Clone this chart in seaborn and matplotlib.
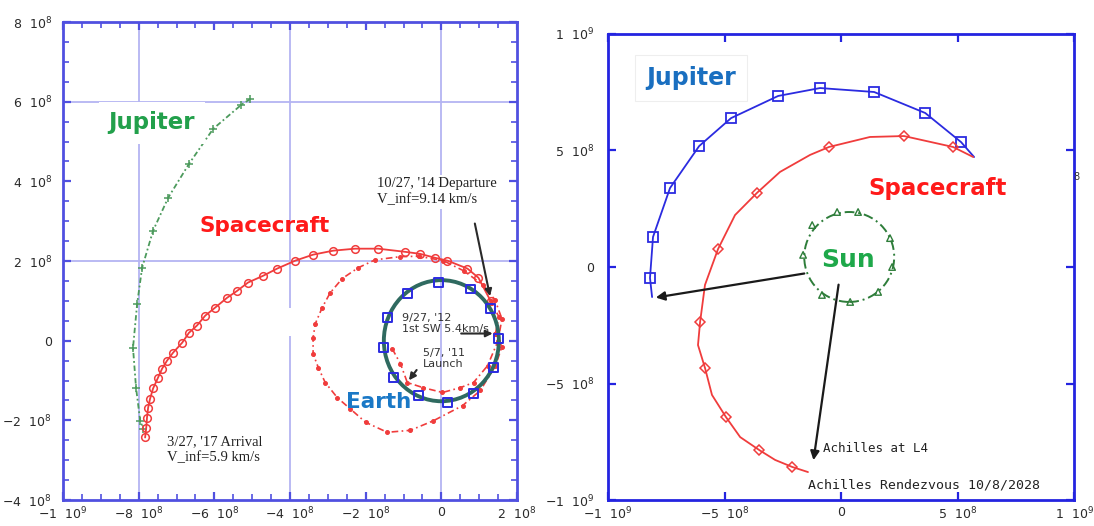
import matplotlib
matplotlib.use("Agg")
import matplotlib.pyplot as plt
from matplotlib.patches import Circle, Rectangle
from matplotlib.ticker import MultipleLocator, FuncFormatter, FixedLocator
import seaborn as sns

# All distances are in units of 1e8 km (heliocentric ecliptic plane).

# ---------------- Left panel: Earth gravity assist transfer to Jupiter ----------------
jup_left_x = [-5.05, -5.29, -6.03, -6.67, -7.22, -7.62, -7.91, -8.04, -8.15, -8.07, -7.96, -7.88]
jup_left_y = [6.07, 5.92, 5.32, 4.44, 3.59, 2.76, 1.83, 0.93, -0.18, -1.18, -2.01, -2.21]

earth_orbit_radius = 1.52
earth_mark_x = [-1.43, -1.53, -1.27, -0.61, 0.16, 0.85, 1.38, 1.51, 1.30, 0.77, -0.08, -0.90]
earth_mark_y = [0.58, -0.18, -0.93, -1.38, -1.56, -1.33, -0.68, 0.05, 0.80, 1.30, 1.46, 1.18]

# launch -> first Earth swing-by loop
loop1_x = [-1.30, -1.08, -0.90, -0.48, 0.03, 0.50, 0.85, 1.22, 1.50, 1.60, 1.42, 1.10,
           0.60, 0.05, -0.60, -1.08, -1.75, -2.20, -2.62, -2.94, -3.15, -3.33, -3.39,
           -3.39, -3.25, -3.07, -2.75, -2.41, -2.00, -1.43, -0.82, -0.21, 0.56, 1.03,
           1.43, 1.60, 1.43]
loop1_y = [-0.20, -0.58, -1.05, -1.18, -1.30, -1.18, -1.05, -0.63, 0.00, 0.55, 1.02, 1.40,
           1.75, 2.01, 2.12, 2.11, 2.03, 1.83, 1.56, 1.20, 0.83, 0.43, 0.08,
           -0.33, -0.68, -1.05, -1.43, -1.71, -2.05, -2.30, -2.25, -2.01, -1.63, -1.25,
           -0.63, -0.15, 0.18]

# swing-by -> Earth departure
loop2_x = [1.43, 1.52, 1.30]
loop2_y = [0.18, 0.60, 1.00]

# departure -> Jupiter arrival
cruise_x = [1.30, 0.98, 0.69, 0.16, -0.16, -0.56, -0.95, -1.67, -2.28, -2.86, -3.39, -3.86,
            -4.34, -4.71, -5.11, -5.40, -5.66, -5.98, -6.24, -6.46, -6.67, -6.85, -7.09,
            -7.25, -7.38, -7.49, -7.62, -7.70, -7.75, -7.78, -7.80, -7.83]
cruise_y = [1.00, 1.58, 1.81, 2.01, 2.08, 2.18, 2.23, 2.31, 2.31, 2.26, 2.16, 2.01,
            1.81, 1.63, 1.46, 1.25, 1.08, 0.83, 0.63, 0.38, 0.20, -0.05, -0.30,
            -0.50, -0.70, -0.93, -1.20, -1.46, -1.68, -1.93, -2.18, -2.43]

left_grid_x = [-8, -4, 0]
left_grid_y = [6, 2]

# ---------------- Right panel: Jupiter to Achilles (L4) ----------------
jup_right_x = [-8.11, -8.20, -8.07, -7.34, -6.09, -4.72, -2.70, -0.90, 1.42, 3.61, 5.15, 5.71]
jup_right_y = [-1.29, -0.47, 1.29, 3.39, 5.19, 6.39, 7.34, 7.68, 7.51, 6.61, 5.36, 4.72]

sc_right_x = [5.67, 4.81, 2.70, 1.24, -0.52, -1.33, -2.62, -3.61, -4.55, -5.28, -5.84, -6.05,
              -6.14, -5.84, -5.54, -4.94, -4.33, -3.52, -2.83, -2.10, -1.42]
sc_right_y = [4.72, 5.15, 5.62, 5.58, 5.15, 4.81, 4.08, 3.18, 2.23, 0.77, -0.77, -2.36,
              -3.35, -4.33, -5.49, -6.44, -7.30, -7.85, -8.28, -8.58, -8.80]
sc_right_marks = [1, 2, 4, 7, 9, 11, 13, 15, 17, 19]

sun_center = (0.35, 0.43)
sun_radius = 1.93
sun_mark_x = [-0.17, 0.73, 2.10, 2.19, 1.59, 0.39, -0.82, -1.63, -1.24]
sun_mark_y = [2.36, 2.36, 1.24, 0.00, -1.07, -1.50, -1.20, 0.52, 1.80]

# ---------------- styling ----------------
sns.set_theme(style="white")
plt.rcParams["font.family"] = ["DejaVu Sans"]
plt.rcParams["mathtext.fontset"] = "dejavusans"

RED = "#f03c3c"
BLUE = "#2b2be0"
GREEN_L = "#4c9a5c"
GREEN_R = "#2e7d3a"
EARTH = "#2f6a60"


def sci_label(v, pos):
    if abs(v) < 1e-9:
        return "0"
    exp = 9 if abs(v) >= 10 else 8
    mant = v / 10 ** (exp - 8)
    return rf"${mant:.0f}\ \ 10^{{{exp}}}$"


def style_axes(ax, spine_color, major, minor, pad_x, pad_y):
    for s in ax.spines.values():
        s.set_color(spine_color)
        s.set_linewidth(2)
    ax.xaxis.set_major_locator(MultipleLocator(major))
    ax.yaxis.set_major_locator(MultipleLocator(major))
    if minor:
        ax.xaxis.set_minor_locator(MultipleLocator(minor))
        ax.yaxis.set_minor_locator(MultipleLocator(minor))
    ax.xaxis.set_major_formatter(FuncFormatter(sci_label))
    ax.yaxis.set_major_formatter(FuncFormatter(sci_label))
    ax.tick_params(which="both", direction="in", top=True, right=True,
                   bottom=True, left=True, color=spine_color, labelcolor="#2a2a2a",
                   labelsize=9)
    ax.tick_params(which="major", length=6, width=1.6)
    ax.tick_params(which="minor", length=4, width=1.2)
    ax.tick_params(axis="x", pad=pad_x)
    ax.tick_params(axis="y", pad=pad_y)
    ax.set_xlabel("")
    ax.set_ylabel("")


fig = plt.figure(figsize=(10.94, 5.26), dpi=100)
axL = fig.add_axes([0.0576, 0.0494, 0.415, 0.9087])
axR = fig.add_axes([0.5558, 0.0494, 0.426, 0.886])

# ---------- left panel ----------
axL.set_xlim(-10, 2)
axL.set_ylim(-4, 8)
for gx in left_grid_x:
    axL.axvline(gx, color="#b4b4f2", lw=1.3, zorder=0)
for gy in left_grid_y:
    axL.axhline(gy, color="#b4b4f2", lw=1.3, zorder=0)
axL.add_patch(Rectangle((-5.58, 0.13), 2.04, 0.70, facecolor="white", edgecolor="none", zorder=0.5))

sns.lineplot(x=jup_left_x, y=jup_left_y, ax=axL, sort=False, estimator=None,
             color=GREEN_L, lw=1.3, linestyle=(0, (3, 1.5, 1, 1.5)),
             marker="+", markersize=6, markeredgecolor=GREEN_L, markeredgewidth=1.1, zorder=3)

sns.lineplot(x=loop1_x, y=loop1_y, ax=axL, sort=False, estimator=None,
             color=RED, lw=1.2, linestyle=(0, (4, 2, 1, 2)),
             marker="o", markersize=2.8, markeredgecolor=RED, markerfacecolor=RED, zorder=3)
sns.lineplot(x=loop2_x, y=loop2_y, ax=axL, sort=False, estimator=None,
             color=RED, lw=1.2, linestyle=(0, (4, 2, 1, 2)),
             marker="o", markersize=2.8, markeredgecolor=RED, markerfacecolor=RED, zorder=3)
sns.lineplot(x=cruise_x, y=cruise_y, ax=axL, sort=False, estimator=None,
             color=RED, lw=1.3, marker="o", markersize=5.5, markerfacecolor="none",
             markeredgecolor=RED, markeredgewidth=1.1, zorder=3)

axL.add_patch(Circle((0, 0), earth_orbit_radius, fill=False, edgecolor=EARTH, lw=2.8, zorder=4))
sns.scatterplot(x=earth_mark_x, y=earth_mark_y, ax=axL, marker="s", s=40,
                facecolor="none", edgecolor=BLUE, linewidth=1.4, zorder=5)

axL.text(-7.65, 5.47, "Jupiter", color="#22a04b", fontsize=16.5, fontweight="bold",
         ha="center", va="center", zorder=6,
         bbox=dict(facecolor="white", edgecolor="none", pad=7))
axL.text(-4.66, 2.89, "Spacecraft", color="#ff1a1a", fontsize=15.5, fontweight="bold",
         ha="center", va="center", zorder=6)
axL.text(-1.67, -1.53, "Earth", color="#1a78c6", fontsize=15.5, fontweight="bold",
         ha="center", va="center", zorder=6)

serif = ["Liberation Serif", "DejaVu Serif"]
axL.text(-1.69, 3.74, "10/27, '14 Departure\nV_inf=9.14 km/s", family=serif, fontsize=10.5,
         color="#222222", ha="left", va="center", linespacing=1.25, zorder=6,
         bbox=dict(facecolor="white", edgecolor="none", pad=2))
axL.text(-7.25, -2.74, "3/27, '17 Arrival\nV_inf=5.9 km/s", family=serif, fontsize=10.5,
         color="#222222", ha="left", va="center", linespacing=1.25, zorder=6,
         bbox=dict(facecolor="white", edgecolor="none", pad=2))
axL.text(-1.03, 0.43, "9/27, '12\n1st SW 5.4km/s", fontsize=8, color="#333333",
         ha="left", va="center", linespacing=1.1, zorder=6)
axL.text(-0.48, -0.45, "5/7, '11\nLaunch", fontsize=8, color="#333333",
         ha="left", va="center", linespacing=1.1, zorder=6)

arrow = dict(arrowstyle="-|>", color="#2a2a2a", lw=1.5, mutation_scale=10)
axL.annotate("", xy=(1.30, 1.05), xytext=(0.87, 3.01), arrowprops=arrow, zorder=7)
axL.annotate("", xy=(1.43, 0.18), xytext=(0.45, 0.18), arrowprops=arrow, zorder=7)
axL.annotate("", xy=(-0.90, -1.05), xytext=(-0.61, -0.68), arrowprops=arrow, zorder=7)

style_axes(axL, "#5050e0", 2, 0.5, 4, 8)

# ---------- right panel ----------
axR.set_xlim(-10, 10)
axR.set_ylim(-10, 10)

sns.lineplot(x=jup_right_x, y=jup_right_y, ax=axR, sort=False, estimator=None,
             color=BLUE, lw=1.3, marker="s", markersize=7, markerfacecolor="none",
             markeredgecolor=BLUE, markeredgewidth=1.3,
             markevery=list(range(1, len(jup_right_x) - 1)), zorder=3)
sns.lineplot(x=sc_right_x, y=sc_right_y, ax=axR, sort=False, estimator=None,
             color=RED, lw=1.3, marker="D", markersize=5, markerfacecolor="none",
             markeredgecolor=RED, markeredgewidth=1.1, markevery=sc_right_marks, zorder=3)

axR.add_patch(Circle(sun_center, sun_radius, fill=False, edgecolor=GREEN_R, lw=1.4,
                     linestyle=(0, (5, 2, 1, 2)), zorder=3))
sns.scatterplot(x=sun_mark_x, y=sun_mark_y, ax=axR, marker="^", s=22,
                facecolor="none", edgecolor=GREEN_R, linewidth=1.0, zorder=4)

axR.text(-6.44, 8.11, "Jupiter", color="#1a6fc0", fontsize=17, fontweight="bold",
         ha="center", va="center", zorder=6,
         bbox=dict(facecolor="white", edgecolor="#eeeeee", lw=0.8, pad=8))
axR.text(4.12, 3.39, "Spacecraft", color="#ff1a1a", fontsize=16.5, fontweight="bold",
         ha="center", va="center", zorder=6)
axR.text(0.30, 0.30, "Sun", color="#1ea84a", fontsize=18, fontweight="bold",
         ha="center", va="center", zorder=6,
         bbox=dict(facecolor="white", edgecolor="none", pad=1))

mono = ["DejaVu Sans Mono"]
axR.text(-0.77, -7.77, "Achilles at L4", family=mono, fontsize=9, color="#222222",
         ha="left", va="center", zorder=6)
axR.text(-1.42, -9.36, "Achilles Rendezvous 10/8/2028", family=mono, fontsize=9.5,
         color="#222222", ha="left", va="center", zorder=6)

arrowR = dict(arrowstyle="-|>", color="#1a1a1a", lw=1.6, mutation_scale=13)
axR.annotate("", xy=(-8.07, -1.33), xytext=(-1.46, -0.26), arrowprops=arrowR, zorder=7)
axR.annotate("", xy=(-1.20, -8.41), xytext=(-0.09, -0.64), arrowprops=arrowR, zorder=7)

style_axes(axR, "#2424e0", 5, None, 4, 10)
axR.xaxis.set_minor_locator(FixedLocator([]))
axR.yaxis.set_minor_locator(FixedLocator([]))

fig.text(1076 / 1094, 1 - 177 / 526, "8", fontsize=7, color="#333333",
         ha="center", va="center")

fig.savefig("out.png", dpi=100)
